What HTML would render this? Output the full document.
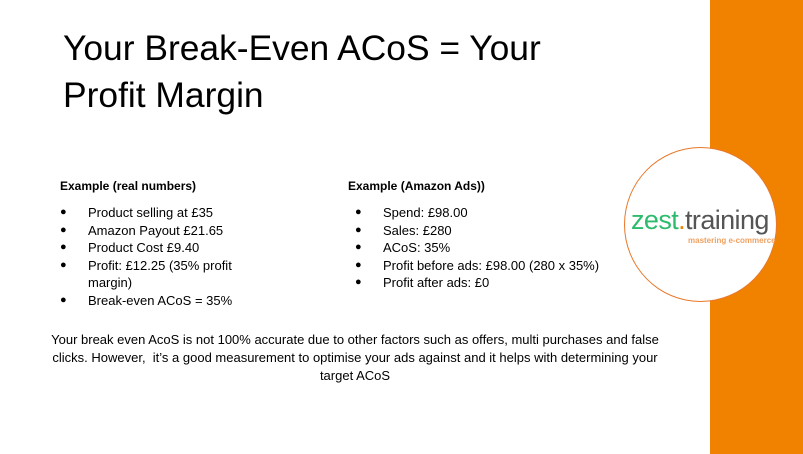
<!DOCTYPE html>
<html><head><meta charset="utf-8"><style>
body{margin:0;width:803px;height:454px;position:relative;overflow:hidden;background:#fff;font-family:"Liberation Sans",sans-serif;color:#000}
.a{position:absolute;white-space:nowrap}
h1{position:absolute;left:63px;top:25px;margin:0;font-weight:normal;font-size:35.4px;line-height:47px}
.h{font-weight:bold;font-size:12px}
ul{position:absolute;margin:0;padding:0;list-style:none;font-size:13px;line-height:17.5px}
li{position:relative;padding-left:28px}
li:before{content:"●";position:absolute;left:0;font-size:11px}
</style></head><body>
<div class="a" style="left:710px;top:0;width:93px;height:454px;background:#f08200"></div>
<div class="a" style="left:624px;top:147px;width:153px;height:155px;border-radius:50%;background:#fff;border:1px solid #e8782a;box-sizing:border-box"></div>
<div class="a" style="left:631px;top:205px;font-size:27px;letter-spacing:-0.6px"><span style="color:#2dbb6e">zest</span><span style="color:#f08200">.</span><span style="color:#555">training</span></div>
<div class="a" style="left:688px;top:236px;font-size:8px;color:#f0a060;font-weight:bold">mastering e-commerce</div>
<h1>Your Break-Even ACoS = Your<br>Profit Margin</h1>
<div class="a h" style="left:60px;top:179px">Example (real numbers)</div>
<ul style="left:60px;top:204px">
<li>Product selling at £35</li><li>Amazon Payout £21.65</li><li>Product Cost £9.40</li><li>Profit: £12.25 (35% profit<br>margin)</li><li>Break-even ACoS = 35%</li></ul>
<div class="a h" style="left:348px;top:179px">Example (Amazon Ads))</div>
<ul style="left:355px;top:204px">
<li>Spend: £98.00</li><li>Sales: £280</li><li>ACoS: 35%</li><li>Profit before ads: £98.00 (280 x 35%)</li><li>Profit after ads: £0</li></ul>
<div class="a" style="left:0;width:710px;top:331px;text-align:center;font-size:13px;line-height:18px;white-space:normal">Your break even AcoS is not 100% accurate due to other factors such as offers, multi purchases and false<br>clicks. However,&nbsp; it’s a good measurement to optimise your ads against and it helps with determining your<br>target ACoS</div>
</body></html>
